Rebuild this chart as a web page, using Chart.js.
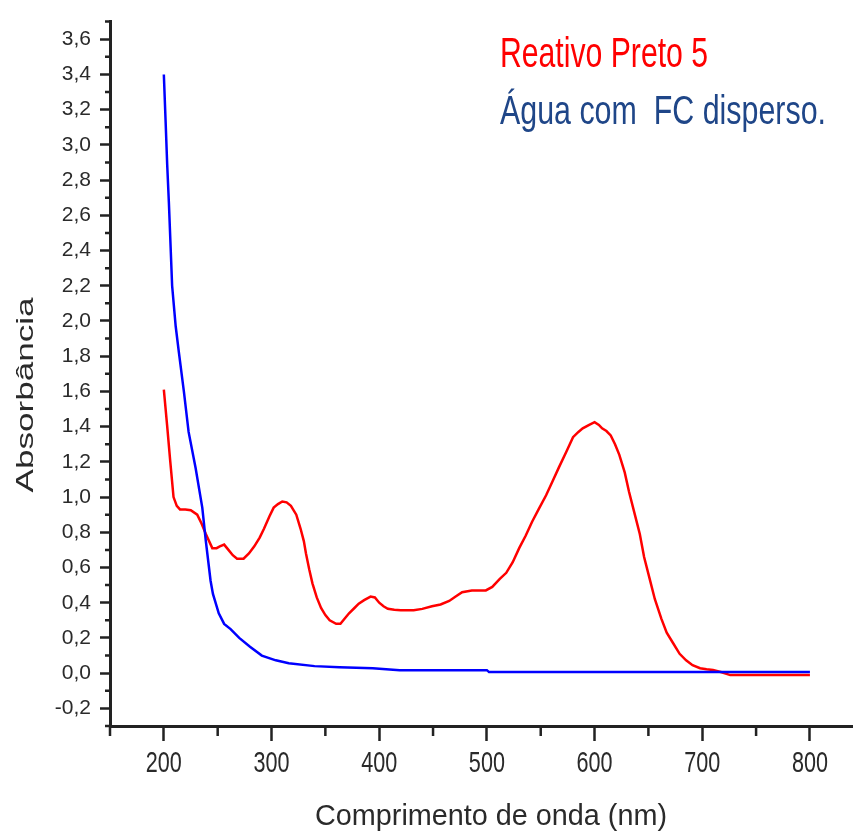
<!DOCTYPE html>
<html>
<head>
<meta charset="utf-8">
<script src="https://cdn.jsdelivr.net/npm/chart.js@4/dist/chart.umd.min.js"></script>
<style>
  html, body { margin: 0; padding: 0; background: #fff; }
  #wrap { width: 853px; height: 834px; }
</style>
</head>
<body>
<div id="wrap"><canvas id="c" width="853" height="834"></canvas></div>
<script>
// UV-Vis spectra: wavelength (nm) and absorbance for each sample
const redWavelength = [200, 203, 206, 209, 212, 215, 220, 225, 231, 235, 239, 245, 249, 252, 256, 260, 264, 268, 274, 279, 284, 289, 293, 298, 302, 306, 310, 314, 318, 323, 327, 330, 332, 335, 338, 342, 346, 350, 354, 360, 364, 368, 372, 377, 381, 386, 392, 396, 400, 404, 408, 414, 420, 432, 440, 449, 457, 465, 471, 477, 486, 499, 505, 512, 518, 524, 530, 536, 542, 548, 555, 561, 567, 574, 580, 585, 589, 595, 600, 604, 607, 611, 615, 619, 623, 628, 632, 637, 642, 646, 651, 656, 662, 667, 673, 679, 685, 691, 698, 704, 710, 718, 726, 760, 800];
const redAbsorbance = [1.61, 1.41, 1.20, 1.00, 0.95, 0.93, 0.93, 0.925, 0.90, 0.85, 0.79, 0.71, 0.71, 0.72, 0.73, 0.70, 0.67, 0.65, 0.65, 0.68, 0.72, 0.77, 0.82, 0.89, 0.94, 0.96, 0.975, 0.97, 0.95, 0.90, 0.82, 0.75, 0.68, 0.59, 0.51, 0.43, 0.37, 0.33, 0.30, 0.28, 0.28, 0.31, 0.34, 0.37, 0.395, 0.415, 0.435, 0.43, 0.40, 0.38, 0.366, 0.36, 0.358, 0.358, 0.365, 0.38, 0.39, 0.41, 0.435, 0.46, 0.47, 0.47, 0.49, 0.535, 0.57, 0.63, 0.71, 0.78, 0.86, 0.93, 1.01, 1.09, 1.17, 1.26, 1.34, 1.37, 1.39, 1.41, 1.425, 1.41, 1.39, 1.375, 1.35, 1.30, 1.24, 1.14, 1.03, 0.91, 0.79, 0.66, 0.54, 0.42, 0.31, 0.23, 0.17, 0.11, 0.073, 0.045, 0.028, 0.022, 0.018, 0.005, -0.011, -0.011, -0.011];

const blueWavelength = [200, 201.6, 203.1, 204.7, 207.7, 211, 214, 218.6, 223, 229.5, 235.7, 239, 243.4, 245.6, 251, 256, 262, 270, 280, 291, 304, 316, 340, 363, 394, 419, 500, 502, 600, 700, 800];
const blueAbsorbance = [3.40, 3.14, 2.89, 2.67, 2.20, 1.97, 1.82, 1.60, 1.37, 1.165, 0.94, 0.75, 0.525, 0.45, 0.34, 0.28, 0.25, 0.20, 0.15, 0.10, 0.073, 0.056, 0.04, 0.034, 0.028, 0.017, 0.017, 0.006, 0.006, 0.006, 0.006];

const redName = 'Reativo Preto 5';
const blueName = 'Água com  FC disperso.';
const xTitle = 'Comprimento de onda (nm)';
const yTitle = 'Absorbância';

// axis tick positions
const xTickValues = [200, 300, 400, 500, 600, 700, 800];
const xMinorValues = [150, 250, 350, 450, 550, 650, 750];
const yTickValues = [-0.2, 0, 0.2, 0.4, 0.6, 0.8, 1.0, 1.2, 1.4, 1.6, 1.8, 2.0, 2.2, 2.4, 2.6, 2.8, 3.0, 3.2, 3.4, 3.6];
const yMinorValues = [-0.3, -0.1, 0.1, 0.3, 0.5, 0.7, 0.9, 1.1, 1.3, 1.5, 1.7, 1.9, 2.1, 2.3, 2.5, 2.7, 2.9, 3.1, 3.3, 3.5, 3.7];

const AXIS_COLOR = '#222222';
const TEXT_COLOR = '#2a2a2a';
const RED = '#ff0000';
const BLUE = '#0000ff';
const LABEL_BLUE = '#1f4688';
const FONT = '"Liberation Sans", Arial, sans-serif';

function toPoints(xs, ys) {
  return xs.map((x, i) => ({ x: x, y: ys[i] }));
}

// draws text squeezed or stretched along its reading direction by a factor
function scaledText(ctx, text, x, y, size, factor, color, align, angle) {
  ctx.save();
  ctx.font = size + 'px ' + FONT;
  ctx.fillStyle = color;
  ctx.textBaseline = 'alphabetic';
  ctx.textAlign = align;
  ctx.translate(x, y);
  if (angle) ctx.rotate(angle);
  ctx.scale(factor, 1);
  ctx.fillText(text, 0, 0);
  ctx.restore();
}

// same, but fitted to a given length
function fittedText(ctx, text, x, y, size, length, color, align, angle) {
  ctx.save();
  ctx.font = size + 'px ' + FONT;
  const natural = ctx.measureText(text).width;
  ctx.restore();
  scaledText(ctx, text, x, y, size, length / natural, color, align, angle);
}

const minorTicks = {
  id: 'minorTicks',
  afterDraw(chart) {
    const { ctx } = chart;
    const xs = chart.scales.x, ys = chart.scales.y;
    ctx.save();
    ctx.strokeStyle = AXIS_COLOR;
    ctx.lineWidth = 2.5;
    ctx.beginPath();
    xMinorValues.forEach(v => {
      const px = xs.getPixelForValue(v);
      ctx.moveTo(px, xs.top);
      ctx.lineTo(px, xs.top + 10);
    });
    yMinorValues.forEach(v => {
      const py = ys.getPixelForValue(v);
      ctx.moveTo(ys.right, py);
      ctx.lineTo(ys.right - 5, py);
    });
    ctx.stroke();
    ctx.restore();
  }
};

// condensed wavelength labels under the x axis ticks
const xTickLabels = {
  id: 'xTickLabels',
  afterDraw(chart) {
    const ctx = chart.ctx;
    const xs = chart.scales.x;
    xs.ticks.forEach(t => {
      scaledText(ctx, String(t.value), xs.getPixelForValue(t.value), xs.top + 46, 30, 0.72, TEXT_COLOR, 'center', 0);
    });
  }
};

const labels = {
  id: 'labels',
  afterDraw(chart) {
    const ctx = chart.ctx;
    fittedText(ctx, redName, 500, 67, 42, 208, RED, 'left', 0);
    fittedText(ctx, blueName, 500, 124, 40, 326, LABEL_BLUE, 'left', 0);
    fittedText(ctx, xTitle, 491, 825, 30, 352, TEXT_COLOR, 'center', 0);
    fittedText(ctx, yTitle, 33, 395, 24, 195, TEXT_COLOR, 'center', -Math.PI / 2);
  }
};

new Chart(document.getElementById('c'), {
  type: 'line',
  data: {
    datasets: [
      {
        label: blueName,
        data: toPoints(blueWavelength, blueAbsorbance),
        borderColor: BLUE,
        borderWidth: 2.5,
        pointRadius: 0,
        tension: 0,
        fill: false
      },
      {
        label: redName,
        data: toPoints(redWavelength, redAbsorbance),
        borderColor: RED,
        borderWidth: 2.5,
        pointRadius: 0,
        tension: 0,
        fill: false
      }
    ]
  },
  options: {
    responsive: false,
    animation: false,
    devicePixelRatio: 1,
    layout: { padding: { top: 17, right: 0, bottom: 0, left: 0 } },
    plugins: { legend: { display: false }, tooltip: { enabled: false } },
    scales: {
      x: {
        type: 'linear',
        min: 150,
        max: 840,
        afterBuildTicks(s) { s.ticks = xTickValues.map(v => ({ value: v })); },
        afterFit(s) { s.height = 108; },
        border: { display: true, color: AXIS_COLOR, width: 3 },
        grid: { drawOnChartArea: false, drawTicks: true, tickLength: 15, tickWidth: 2.5, tickColor: AXIS_COLOR },
        ticks: { display: false, autoSkip: false, maxRotation: 0 }
      },
      y: {
        type: 'linear',
        min: -0.3,
        max: 3.7,
        afterBuildTicks(s) { s.ticks = yTickValues.map(v => ({ value: v })); },
        afterFit(s) { s.width = 110; },
        border: { display: true, color: AXIS_COLOR, width: 3 },
        grid: { drawOnChartArea: false, drawTicks: true, tickLength: 10, tickWidth: 2.5, tickColor: AXIS_COLOR },
        ticks: {
          autoSkip: false,
          padding: 9,
          color: TEXT_COLOR,
          font: { family: FONT, size: 21 },
          callback: v => v.toFixed(1).replace('.', ',')
        }
      }
    }
  },
  plugins: [minorTicks, xTickLabels, labels]
});
</script>
</body>
</html>
